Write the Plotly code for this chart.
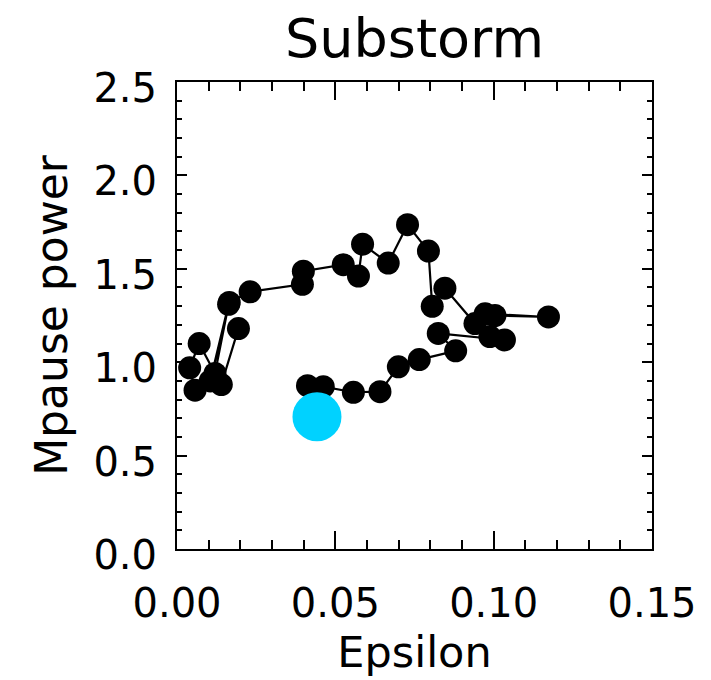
import plotly.graph_objects as go

# Trajectory (Epsilon vs Mpause power)
eps = [0.0194, 0.0140, 0.0057, 0.0040, 0.0070, 0.0120, 0.0163, 0.0105, 0.0165,
       0.0231, 0.0396, 0.0399, 0.0525, 0.0573, 0.0586, 0.0667, 0.0728, 0.0794,
       0.0806, 0.0846, 0.0941, 0.0973, 0.1173, 0.1004, 0.0988, 0.1034, 0.0825,
       0.0880, 0.0765, 0.0699, 0.0641, 0.0557, 0.0462, 0.0412]
power = [1.18, 0.88, 0.85, 0.97, 1.10, 0.94, 1.31, 0.90, 1.32,
         1.377, 1.417, 1.487, 1.522, 1.461, 1.632, 1.531, 1.736, 1.595,
         1.299, 1.396, 1.207, 1.259, 1.242, 1.250, 1.137, 1.119, 1.154,
         1.061, 1.014, 0.975, 0.842, 0.839, 0.869, 0.874]

# Highlighted point
eps_hi = [0.0442]
power_hi = [0.708]

x_ticks = [0.00, 0.05, 0.10, 0.15]
y_ticks = [0.0, 0.5, 1.0, 1.5, 2.0, 2.5]

FONT = "DejaVu Sans"

fig = go.Figure()
fig.add_trace(go.Scatter(
    x=eps, y=power, mode="lines+markers",
    line=dict(color="black", width=2.2),
    marker=dict(color="black", size=23),
    showlegend=False, cliponaxis=False))
fig.add_trace(go.Scatter(
    x=eps_hi, y=power_hi, mode="markers",
    marker=dict(color="#00d2ff", size=49),
    showlegend=False))

W, H = 711, 680
fig.update_layout(
    width=W, height=H,
    margin=dict(l=177, r=59, t=82, b=122),
    paper_bgcolor="white", plot_bgcolor="white",
    font=dict(family=FONT, color="black", size=40),
    title=dict(text="Substorm", x=0.5, xref="paper", xanchor="center",
               y=1 - 38 / H, yref="container", yanchor="middle",
               font=dict(family=FONT, size=54, color="black")),
)
fig.update_xaxes(
    range=[0, 0.15], tickvals=x_ticks, tickformat=".2f",
    showgrid=False, zeroline=False,
    showline=True, linecolor="black", linewidth=2, mirror="allticks",
    ticks="inside", ticklen=18, tickwidth=1.5, tickcolor="black",
    minor=dict(dtick=0.01, ticks="inside", ticklen=9, tickwidth=1.5, tickcolor="black", showgrid=False),
    tickfont=dict(family=FONT, size=40, color="black"),
    ticklabelstandoff=18,
    title=dict(text="Epsilon", standoff=12, font=dict(family=FONT, size=43, color="black")),
)
fig.update_yaxes(
    range=[0, 2.5], tickvals=y_ticks, tickformat=".1f",
    showgrid=False, zeroline=False,
    showline=True, linecolor="black", linewidth=2, mirror="allticks",
    ticks="inside", ticklen=10, tickwidth=1.5, tickcolor="black",
    minor=dict(dtick=0.1, ticks="inside", ticklen=5, tickwidth=1.5, tickcolor="black", showgrid=False),
    tickfont=dict(family=FONT, size=40, color="black"),
    ticklabelstandoff=10, ticklabelshift=6,
    title=dict(text="Mpause power", standoff=12, font=dict(family=FONT, size=44, color="black")),
)

fig.write_html("out.html")
